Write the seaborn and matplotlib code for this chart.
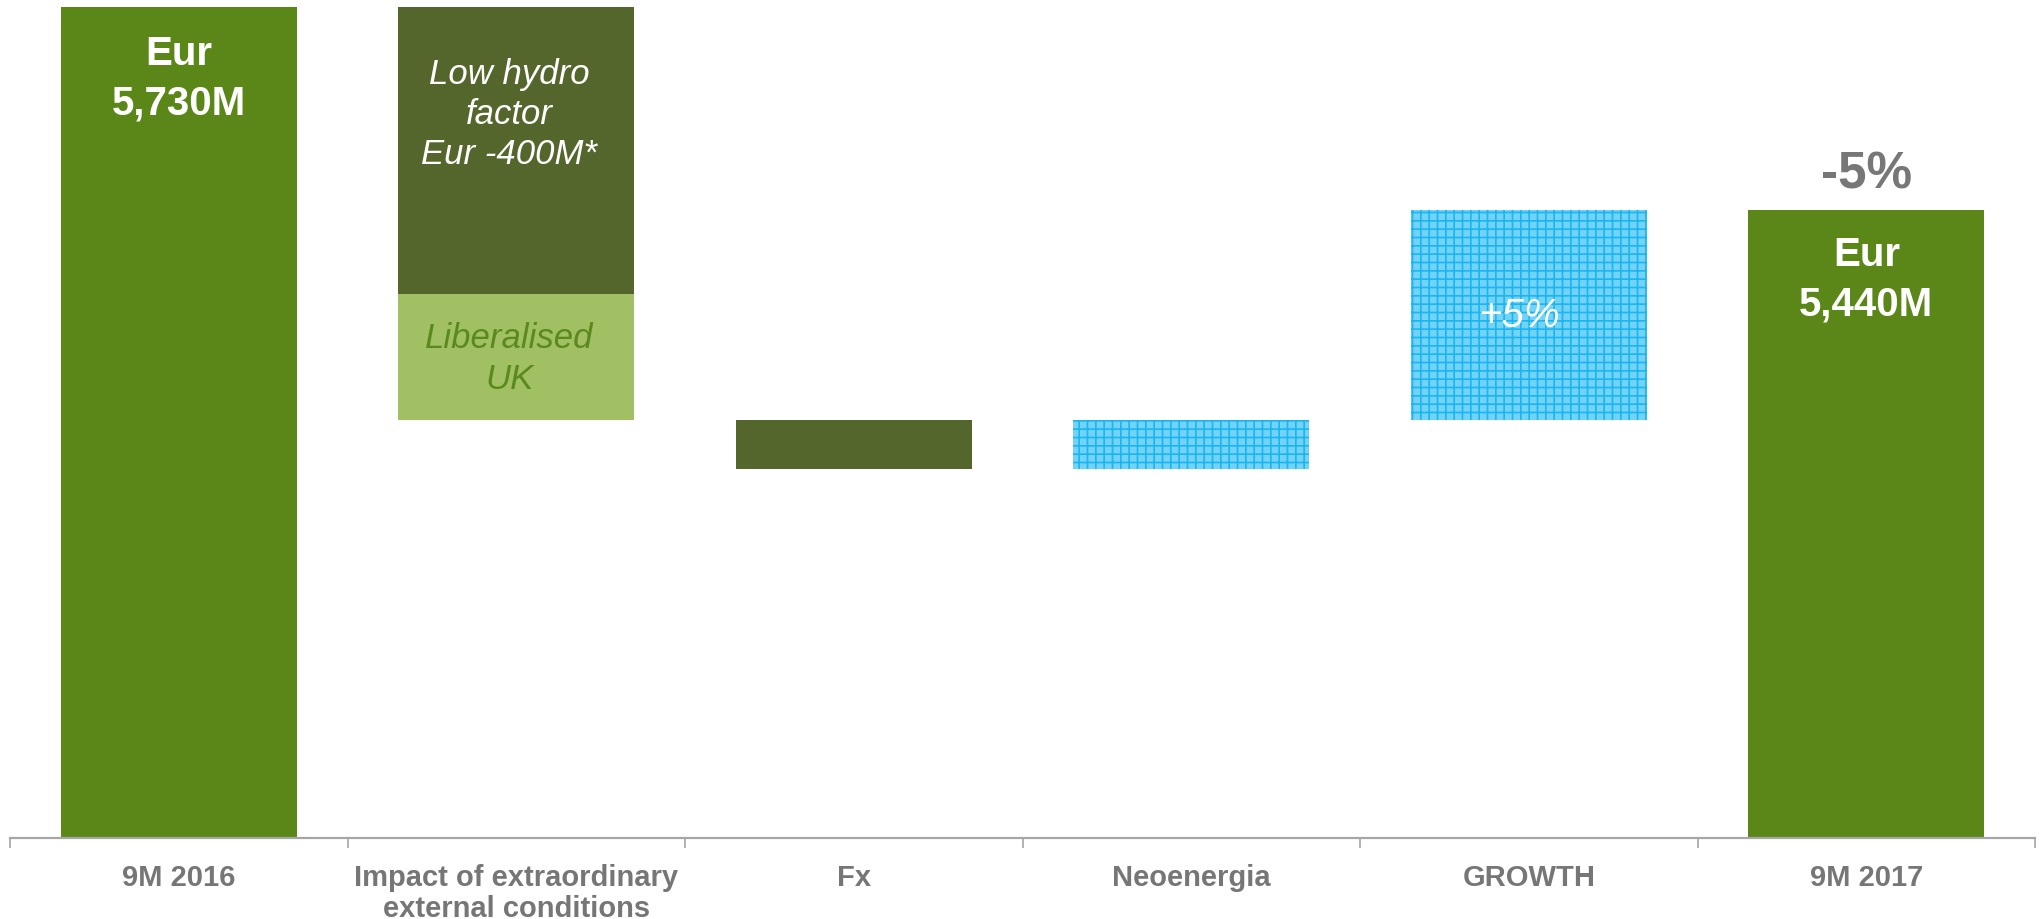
import numpy as np
import pandas as pd
import matplotlib
matplotlib.use("Agg")
import matplotlib.pyplot as plt
import seaborn as sns

# ---------------- data ----------------
categories = ["9M 2016", "Impact of extraordinary\nexternal conditions", "Fx",
              "Neoenergia", "GROWTH", "9M 2017"]
start_value = 5730          # Eur M
end_value = 5440            # Eur M
low_hydro = -410            # part of extraordinary impact
liberalised_uk = -180       # part of extraordinary impact
fx = -70
neoenergia = 70
growth = 300

start_label = "Eur\n5,730M"
end_label = "Eur\n5,440M"
hydro_label = "Low hydro\nfactor\nEur -400M*"
uk_label = "Liberalised\nUK"
growth_label = "+5%"
change_label = "-5%"

# ---------------- style ----------------
sns.set_theme(style="white")
plt.rcParams["font.family"] = ["Liberation Sans", "DejaVu Sans"]
plt.rcParams["hatch.linewidth"] = 1.2

GREEN = "#5B8719"
OLIVE = "#54662B"
LIGHT = "#A1BF63"
UK_TXT = "#5A8A1E"
BLUE = "#72D3F9"
BLUE_LINE = "#1DB5F0"
GRAY = "#767676"
AXIS = "#A6A6A6"

fig = plt.figure(figsize=(20.44, 9.2), dpi=100)
ax = fig.add_axes([10 / 2044, 81 / 920, 2025 / 2044, 839 / 920])

# totals (start / end) via seaborn
totals = pd.DataFrame({"cat": categories,
                       "value": [start_value, 0, 0, 0, 0, end_value]})
sns.barplot(data=totals, x="cat", y="value", order=categories, color=GREEN,
            saturation=1, width=0.7, linewidth=0, ax=ax, errorbar=None)

# waterfall levels
l0 = start_value
l1 = l0 + low_hydro
l2 = l1 + liberalised_uk
l3 = l2 + fx
l4 = l3 + neoenergia
l5 = l4 + growth

W = 0.7
# impact: two stacked segments
ax.bar(1, l0 - l1, bottom=l1, width=W, color=OLIVE, linewidth=0)
ax.bar(1, l1 - l2, bottom=l2, width=W, color=LIGHT, linewidth=0)
# Fx
ax.bar(2, l2 - l3, bottom=l3, width=W, color=OLIVE, linewidth=0)
# Neoenergia & growth (hatched blue)
for i, lo, hi in [(3, l3, l4), (4, l4, l5)]:
    ax.bar(i, hi - lo, bottom=lo, width=W, facecolor=BLUE, edgecolor=BLUE_LINE,
           hatch="++", linewidth=0)

ax.set_ylim(4543, 5741)
ax.set_xlim(-0.5, 5.5)

# ---------------- texts ----------------
ax.annotate(start_label, xy=(0, l0), xytext=(0, -51), textcoords="offset points",
            ha="center", va="center", fontsize=29, fontweight="bold",
            color="white", linespacing=1.4)
ax.annotate(end_label, xy=(5, end_value), xytext=(0, -49.5), textcoords="offset points",
            ha="center", va="center", fontsize=29, fontweight="bold",
            color="white", linespacing=1.4)
ax.annotate(change_label, xy=(5, end_value), xytext=(0, 26), textcoords="offset points",
            ha="center", va="center", fontsize=37, fontweight="bold", color="#777777")
ax.annotate(hydro_label, xy=(1, l0), xytext=(-5, -77), textcoords="offset points",
            ha="center", va="center", fontsize=25, fontstyle="italic",
            color="white", linespacing=1.27)
ax.annotate(uk_label, xy=(1, l1), xytext=(-5, -46), textcoords="offset points",
            ha="center", va="center", fontsize=25, fontstyle="italic",
            color=UK_TXT, linespacing=1.31)
ax.annotate(growth_label, xy=(4, (l4 + l5) / 2), xytext=(-7, 0),
            textcoords="offset points", ha="center", va="center", fontsize=29,
            fontstyle="italic", color="white")

# ---------------- axes ----------------
for s in ["top", "left", "right"]:
    ax.spines[s].set_visible(False)
ax.spines["bottom"].set_color(AXIS)
ax.spines["bottom"].set_linewidth(1.6)
ax.set_yticks([])
ax.set_xlabel("")
ax.set_ylabel("")
ax.set_xticks(range(len(categories)))
ax.set_xticklabels(categories, fontsize=21, fontweight="bold", color=GRAY,
                   linespacing=1.15)
ax.set_xticks(np.arange(-0.5, 6, 1), minor=True)
ax.tick_params(axis="x", which="major", length=0, pad=18)
ax.tick_params(axis="x", which="minor", length=7, width=1.2, color=AXIS,
               direction="out", bottom=True)

fig.savefig("out.png", dpi=100)
